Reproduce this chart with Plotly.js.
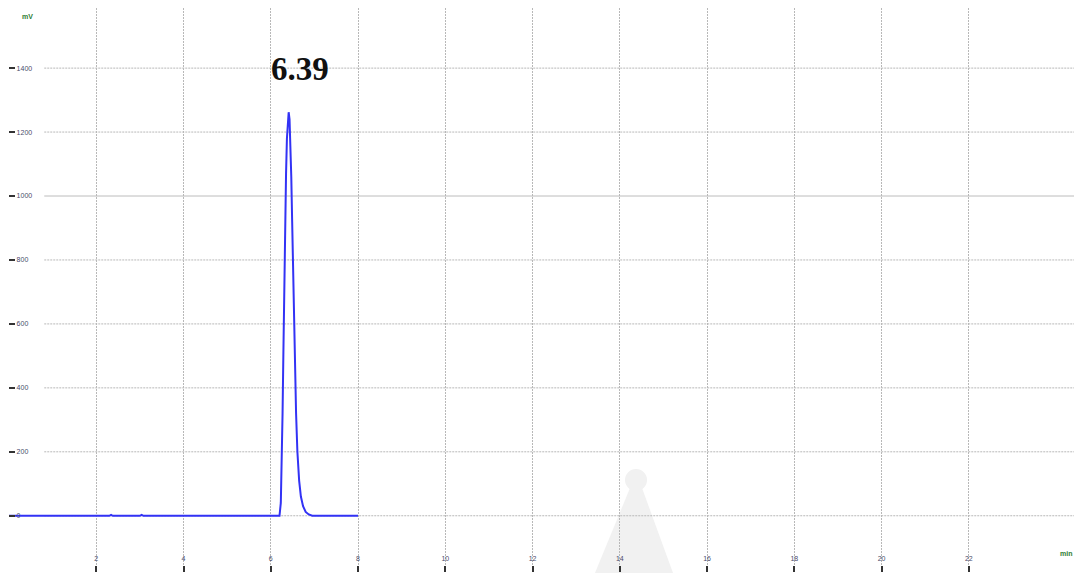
<!DOCTYPE html>
<html>
<head>
<meta charset="utf-8">
<script src="https://cdn.plot.ly/plotly-3.0.1.min.js"></script>
<style>html,body{margin:0;padding:0;background:#fff;}#chart{width:1074px;height:573px;}</style>
</head>
<body>
<div id="chart"></div>
<script>
// Retention time (min) and signal (mV)
const timeMin = [0, 2.3, 2.34, 2.38, 3.0, 3.04, 3.08, 6.2, 6.23, 6.25, 6.27, 6.29, 6.31, 6.33, 6.35, 6.37, 6.39, 6.41, 6.43, 6.45, 6.47, 6.49, 6.51, 6.53, 6.55, 6.58, 6.61, 6.65, 6.69, 6.74, 6.8, 6.87, 6.95, 8.0];
const signalMv = [0, 0, 3, 0, 0, 3, 0, 0, 40, 150, 320, 520, 730, 920, 1070, 1180, 1245, 1262, 1240, 1170, 1060, 920, 770, 620, 480, 320, 200, 110, 60, 30, 12, 4, 0, 0];
const peakLabel = "6.39";
const peakTime = 6.41;
const peakValue = 1262;
const xTicks = [2, 4, 6, 8, 10, 12, 14, 16, 18, 20, 22];
const yTicks = [0, 200, 400, 600, 800, 1000, 1200, 1400];
const yUnit = "mV";
const xUnit = "min";

const hGrid = yTicks.map(v => ({
  type: 'line', xref: 'paper', yref: 'y', x0: 0.0331, x1: 1, y0: v, y1: v,
  line: {color: v === 1000 ? '#bcbcbc' : '#b8b8b8', width: 1, dash: v === 1000 ? 'solid' : '2px,1px'},
  layer: 'below'
}));

const watermark = [
  {type: 'circle', xref: 'paper', yref: 'paper', x0: 0.5784, x1: 0.5991, y0: 0.1329, y1: 0.1724,
   fillcolor: '#f1f1f1', line: {width: 0}, layer: 'below'},
  {type: 'path', xref: 'paper', yref: 'paper',
   path: 'M 0.5831 0.1382 L 0.5944 0.1382 L 0.6235 -0.0144 L 0.5502 -0.0144 Z',
   fillcolor: '#f1f1f1', line: {width: 0}, layer: 'below'}
];

const trace = {
  x: timeMin, y: signalMv, type: 'scatter', mode: 'lines',
  line: {color: 'rgb(50,50,245)', width: 2},
  hoverinfo: 'x+y', showlegend: false
};

const layout = {
  width: 1074, height: 573,
  margin: {l: 9, r: 0, t: 8, b: 8},
  paper_bgcolor: '#fff', plot_bgcolor: '#fff',
  font: {family: 'Liberation Sans, Arial, sans-serif', color: '#444'},
  xaxis: {
    range: [0, 24.41], tickvals: xTicks, ticktext: xTicks.map(String),
    showgrid: true, gridcolor: '#b8b8b8', griddash: '2px,1px', gridwidth: 1,
    zeroline: false, showline: false,
    ticks: 'outside', ticklen: 6, tickwidth: 2, tickcolor: '#333',
    ticklabelposition: 'inside', tickfont: {size: 7, color: '#4a4a6a'}
  },
  yaxis: {
    range: [-154, 1588], tickvals: yTicks, ticktext: yTicks.map(String),
    showgrid: false, zeroline: false, showline: false,
    ticks: 'inside', ticklen: 6, tickwidth: 2, tickcolor: '#333',
    ticklabelposition: 'inside', tickfont: {size: 7, color: '#4a4a6a'}
  },
  shapes: watermark.concat(hGrid),
  annotations: [
    {x: peakTime, y: peakValue, xref: 'x', yref: 'y', text: '<b>' + peakLabel + '</b>',
     showarrow: false, xanchor: 'center', yanchor: 'middle', xshift: 11, yshift: 43,
     font: {family: 'Liberation Serif, Times New Roman, serif', size: 33, color: '#111'}},
    {x: 0.0105, y: 0.984, xref: 'paper', yref: 'paper', text: '<b>' + yUnit + '</b>', showarrow: false,
     xanchor: 'left', yanchor: 'middle', font: {size: 7, color: '#2e7d32'}},
    {x: 0.9925, y: 0.021, xref: 'paper', yref: 'paper', text: '<b>' + xUnit + '</b>', showarrow: false,
     xanchor: 'center', yanchor: 'middle', font: {size: 7, color: '#2e7d32'}}
  ]
};

Plotly.newPlot('chart', [trace], layout, {displayModeBar: false, staticPlot: true});
</script>
</body>
</html>
